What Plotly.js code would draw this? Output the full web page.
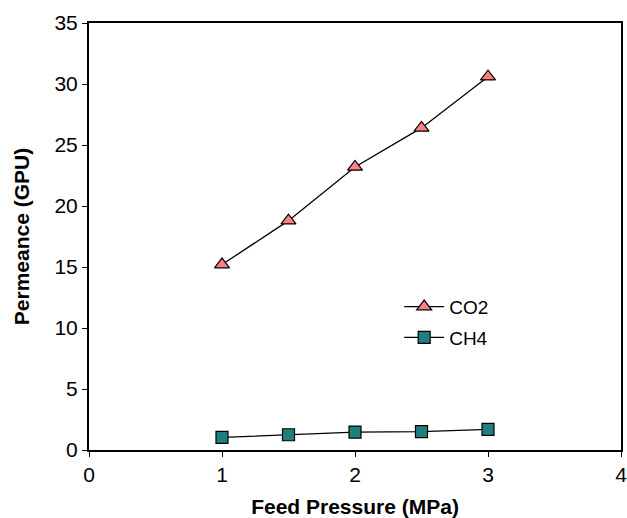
<!DOCTYPE html>
<html><head><meta charset="utf-8">
<script src="https://cdn.plot.ly/plotly-3.0.1.min.js"></script>
<style>html,body{margin:0;padding:0;background:#fff}</style>
</head><body><div id="chart" style="width:627px;height:518px"></div>
<script>
const pressure = [1, 1.5, 2, 2.5, 3];
const co2 = [15.2, 18.8, 23.2, 26.4, 30.6];
const ch4 = [1.03, 1.25, 1.47, 1.5, 1.69];
const xTicks = [0, 1, 2, 3, 4];
const yTicks = [0, 5, 10, 15, 20, 25, 30, 35];

const traces = [
  {x: pressure, y: co2, name: 'CO2', mode: 'lines+markers', type: 'scatter', legendgroup: 'a',
   line: {color: '#000', width: 1.3},
   marker: {symbol: 'triangle-up', size: 13, color: '#FF8080', line: {color: '#000', width: 1.2}}},
  {x: pressure, y: ch4, name: 'CH4', mode: 'lines+markers', type: 'scatter', legendgroup: 'b',
   line: {color: '#000', width: 1.3},
   marker: {symbol: 'square', size: 12, color: '#1F7F7F', line: {color: '#000', width: 1.2}}}
];
const layout = {
  width: 627, height: 518,
  margin: {l: 89, r: 6, t: 23, b: 68},
  paper_bgcolor: '#fff', plot_bgcolor: '#fff',
  font: {family: 'Liberation Sans, Arial, sans-serif', color: '#000', size: 21},
  showlegend: true,
  legend: {x: 0.583, y: 0.38, xanchor: 'left', yanchor: 'top', bgcolor: 'rgba(0,0,0,0)',
           font: {size: 19}, traceorder: 'grouped', tracegroupgap: 3, itemwidth: 40},
  xaxis: {range: [0, 4], tickvals: xTicks, ticktext: xTicks.map(String),
          showgrid: false, zeroline: false, showline: true, linecolor: '#000', linewidth: 2,
          mirror: true, ticks: 'outside', ticklen: 5, tickcolor: '#000', tickfont: {size: 21},
          ticklabeloverflow: 'allow',
          title: {text: '<b>Feed Pressure (MPa)</b>', font: {size: 21}, standoff: 14}},
  yaxis: {range: [0, 35], tickvals: yTicks, ticktext: yTicks.map(String),
          showgrid: false, zeroline: false, showline: true, linecolor: '#000', linewidth: 2,
          mirror: true, ticks: 'outside', ticklen: 5, tickcolor: '#000', tickfont: {size: 21},
          ticklabeloverflow: 'allow',
          title: {text: '<b>Permeance (GPU)</b>', font: {size: 21}, standoff: 19}}
};
Plotly.newPlot('chart', traces, layout, {displayModeBar: false, staticPlot: true});
</script></body></html>
